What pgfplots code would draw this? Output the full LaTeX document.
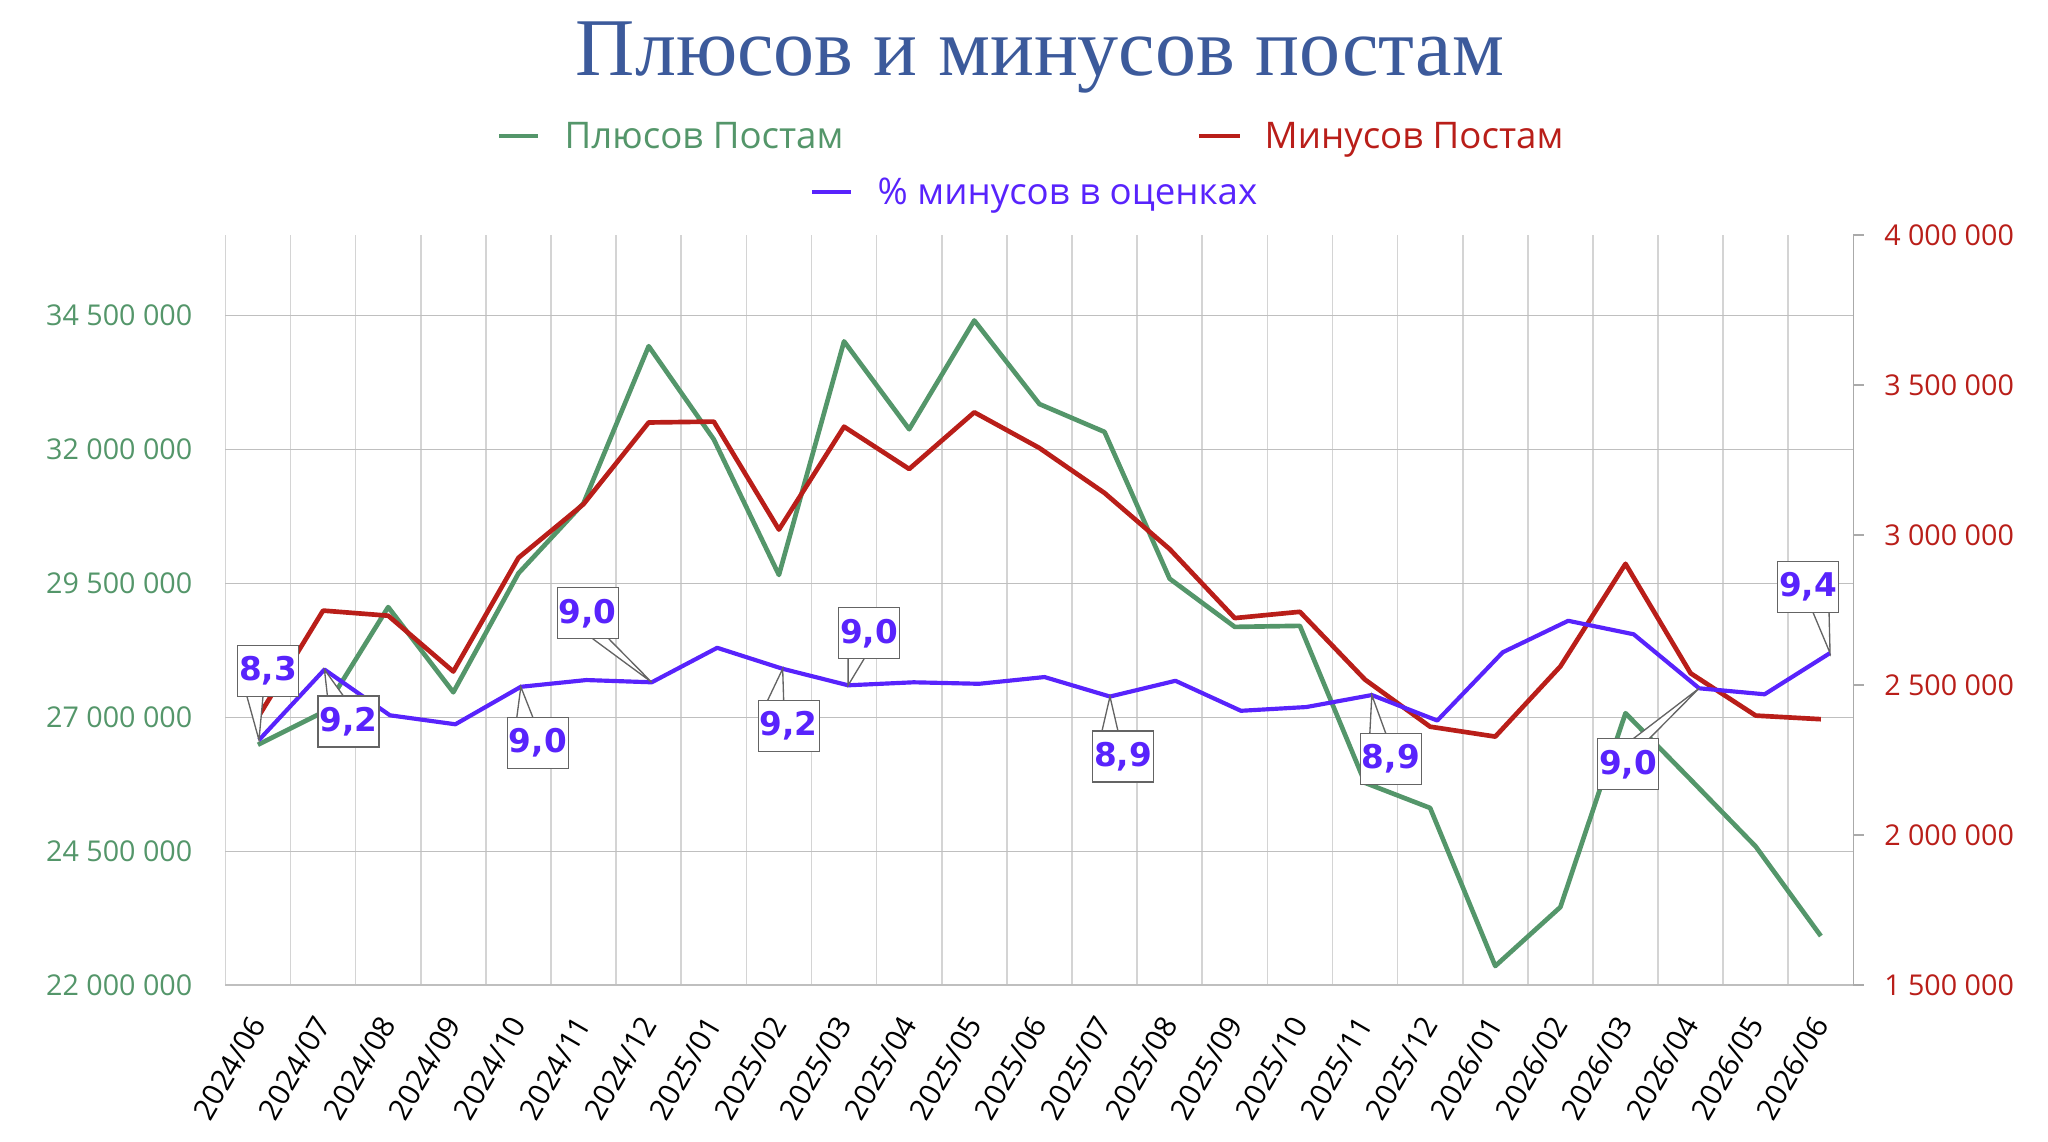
\documentclass[border=0pt]{standalone}
\usepackage{fontspec}
\setmainfont{Open Sans}
\newfontfamily\titlefont{Liberation Serif}
\newfontfamily\labelfont{DejaVu Sans}
\usepackage{pgfplots}
\pgfplotsset{compat=1.18}
\definecolor{cgreen}{RGB}{84,150,106}
\definecolor{cred}{RGB}{185,30,25}
\definecolor{cpurple}{RGB}{88,35,252}
\definecolor{ctitle}{RGB}{60,90,155}
\definecolor{cgrid}{RGB}{212,212,212}
\definecolor{cbox}{RGB}{100,100,100}

\newcommand{\callout}[5]{%
  \pgfmathsetmacro\cdx{#2*0.3}%
  \pgfmathsetmacro\cdy{#3*0.3}%
  \pgfmathsetmacro\hy{(#3>0) ? (\cdy-7.65) : (\cdy+7.65)}%
  \pgfmathsetmacro\bxa{\cdx + #4*1.5}%
  \pgfmathsetmacro\bxb{\cdx + #4*6.3}%
  \filldraw[fill=white,draw=cbox,line width=0.4pt] ([xshift=\bxa pt,yshift=\hy pt]#1) -- (#1) -- ([xshift=\bxb pt,yshift=\hy pt]#1);
  \node[fill=white,draw=cbox,line width=0.4pt,minimum width=18.3pt,minimum height=15.3pt,inner sep=0pt,text=cpurple,font=\labelfont\bfseries\fontsize{9.8}{10}\selectfont] at ([xshift=\cdx pt,yshift=\cdy pt]#1) {#5};
}

\begin{document}
\begin{tikzpicture}
\path[use as bounding box] (0,0) rectangle (614.4pt,342.3pt);

% title
\node[anchor=base,inner sep=0pt,text=ctitle,font=\titlefont\fontsize{24.6}{28}\selectfont] at (312pt,319.5pt) {Плюсов и минусов постам};

% legend
\draw[cgreen,line width=1.2pt] (149.7pt,301.5pt) -- (161.4pt,301.5pt);
\node[anchor=base west,inner sep=0pt,text=cgreen,font=\fontsize{11}{12}\selectfont] at (169.2pt,297.6pt) {Плюсов Постам};
\draw[cred,line width=1.2pt] (359.7pt,301.5pt) -- (372pt,301.5pt);
\node[anchor=base west,inner sep=0pt,text=cred,font=\fontsize{11}{12}\selectfont] at (379.2pt,297.6pt) {Минусов Постам};
\draw[cpurple,line width=1.2pt] (243.6pt,284.7pt) -- (255.3pt,284.7pt);
\node[anchor=base west,inner sep=0pt,text=cpurple,font=\fontsize{11}{12}\selectfont] at (263.1pt,280.8pt) {\% минусов в оценках};

% main (left) axis
\begin{axis}[
  at={(67.62pt,46.71pt)}, anchor=south west,
  scale only axis, width=488.4pt, height=225pt,
  xmin=-0.5, xmax=24.5, ymin=22000000, ymax=36000000,
  axis line style={draw=none},
  xtick={0,...,24},
  xticklabels={2024/06,2024/07,2024/08,2024/09,2024/10,2024/11,2024/12,2025/01,2025/02,2025/03,2025/04,2025/05,2025/06,2025/07,2025/08,2025/09,2025/10,2025/11,2025/12,2026/01,2026/02,2026/03,2026/04,2026/05,2026/06},
  minor xtick={-0.5,0.5,...,24.5},
  xminorgrids, minor x grid style={cgrid,line width=0.5pt},
  ymajorgrids, major y grid style={cgrid!90!black,line width=0.5pt},
  ytick={22000000,24500000,27000000,29500000,32000000,34500000},
  yticklabels={22 000 000,24 500 000,27 000 000,29 500 000,32 000 000,34 500 000},
  major tick length=0pt, minor tick length=0pt,
  tick style={draw=none},
  yticklabel style={font=\fontsize{8.6}{10}\selectfont, text=cgreen, anchor=east, inner sep=0pt},
  yticklabel shift=9.75pt,
  xticklabel style={font=\fontsize{8.9}{10}\selectfont, text=black, rotate=60, anchor=east, inner sep=0pt},
  xticklabel shift=10pt,
  scaled y ticks=false,
]
\addplot[cgreen, line width=1.4pt, line join=round] coordinates {
(0,26490000) (1,27100000) (2,29060000) (3,27470000) (4,29690000)
(5,31000000) (6,33930000) (7,32190000) (8,29660000) (9,34020000)
(10,32380000) (11,34410000) (12,32850000) (13,32330000) (14,29590000)
(15,28690000) (16,28710000) (17,25780000) (18,25310000) (19,22360000)
(20,23460000) (21,27080000) (22,25840000) (23,24590000) (24,22920000)
};
\end{axis}

% right axis
\begin{axis}[
  at={(67.62pt,46.71pt)}, anchor=south west,
  scale only axis, width=488.4pt, height=225pt,
  xmin=-0.5, xmax=24.5, ymin=1500000, ymax=4000000,
  axis x line=none, axis y line*=right,
  y axis line style={draw=cgrid!80!black, line width=0.5pt, -},
  ytick={1500000,2000000,2500000,3000000,3500000,4000000},
  yticklabels={1 500 000,2 000 000,2 500 000,3 000 000,3 500 000,4 000 000},
  tick align=outside, major tick length=3.15pt,
  ytick style={draw=cgrid!80!black, line width=0.5pt},
  yticklabel style={font=\fontsize{8.6}{10}\selectfont, text=cred, anchor=west, inner sep=0pt},
  yticklabel shift=5.9pt,
  scaled y ticks=false,
]
\addplot[cred, line width=1.4pt, line join=round] coordinates {
(0,2393000) (1,2749000) (2,2732000) (3,2546000) (4,2925000)
(5,3104000) (6,3376000) (7,3379000) (8,3019000) (9,3362000)
(10,3221000) (11,3410000) (12,3291000) (13,3141000) (14,2954000)
(15,2724000) (16,2745000) (17,2519000) (18,2362000) (19,2329000)
(20,2563000) (21,2905000) (22,2540000) (23,2399000) (24,2387000)
};
\end{axis}

% percent axis (hidden)
\begin{axis}[
  at={(67.62pt,46.71pt)}, anchor=south west,
  scale only axis, width=488.4pt, height=225pt,
  xmin=-0.513, xmax=24.357, ymin=5, ymax=15,
  hide axis,
]
\addplot[cpurple, line width=1.25pt, line join=round] coordinates {
(0,8.27) (1,9.21) (2,8.60) (3,8.48) (4,8.98)
(5,9.07) (6,9.04) (7,9.50) (8,9.22) (9,9.00)
(10,9.04) (11,9.02) (12,9.11) (13,8.85) (14,9.06)
(15,8.66) (16,8.71) (17,8.87) (18,8.53) (19,9.44)
(20,9.86) (21,9.68) (22,8.96) (23,8.88) (24,9.43)
};
\coordinate (q0) at (axis cs:0,8.27);
\coordinate (q1) at (axis cs:1,9.21);
\coordinate (q4) at (axis cs:4,8.98);
\coordinate (q6) at (axis cs:6,9.04);
\coordinate (q8) at (axis cs:8,9.22);
\coordinate (q9) at (axis cs:9,9.00);
\coordinate (q13) at (axis cs:13,8.85);
\coordinate (q17) at (axis cs:17,8.87);
\coordinate (q22) at (axis cs:22,8.96);
\coordinate (q24) at (axis cs:24,9.43);
\end{axis}

\callout{q0}{9}{69}{-1}{8,3}
\callout{q1}{24}{-52}{-1}{9,2}
\callout{q4}{17}{-56}{-1}{9,0}
\callout{q6}{-64}{69}{1}{9,0}
\callout{q8}{6}{-57}{-1}{9,2}
\callout{q9}{21}{52}{-1}{9,0}
\callout{q13}{13}{-60}{-1}{8,9}
\callout{q17}{19}{-64}{-1}{8,9}
\callout{q22}{-71}{-76}{1}{9,0}
\callout{q24}{-22}{66}{1}{9,4}
\end{tikzpicture}
\end{document}
